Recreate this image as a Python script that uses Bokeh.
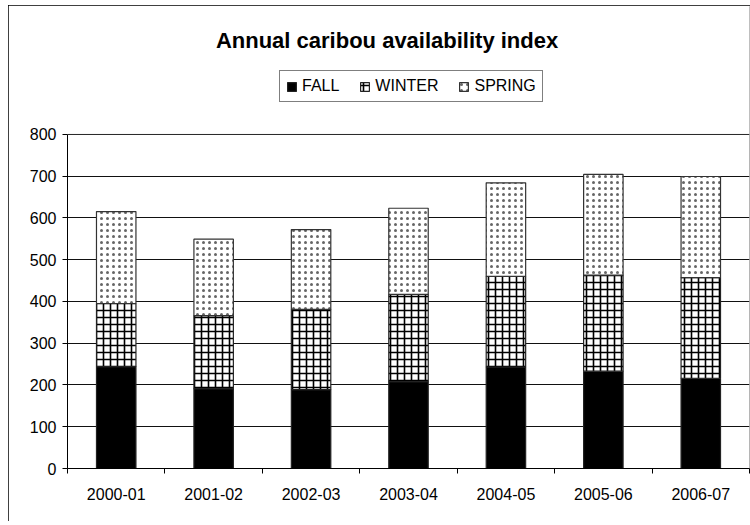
from bokeh.plotting import figure
from bokeh.models import (ColumnDataSource, FixedTicker, Legend, LegendItem, Label,
                          BoxAnnotation)
from bokeh.embed import file_html
from bokeh.resources import INLINE

seasons = ["2000-01", "2001-02", "2002-03", "2003-04", "2004-05", "2005-06", "2006-07"]
fall = [244, 191, 189, 208, 243, 233, 216]
winter = [151, 175, 192, 209, 217, 230, 241]
spring = [220, 183, 191, 206, 224, 241, 242]
y_ticks = [0, 100, 200, 300, 400, 500, 600, 700, 800]
y_max = 800

FONT = "Liberation Sans"

xpos = [i + 0.5 for i in range(len(seasons))]
src = ColumnDataSource(dict(x=xpos, FALL=fall, WINTER=winter, SPRING=spring))

# frame extends to the top so that title and legend sit inside it (not clipped)
p = figure(width=742, height=516, x_range=(0, len(seasons)), y_range=(0, 1106),
           output_backend="svg", toolbar_location=None,
           min_border_left=59, min_border_right=1, min_border_top=1, min_border_bottom=53)
p.margin = (5, 0, 0, 8)
p.styles = {"outline": "1px solid #000", "outline-offset": "-1px"}

rs = p.vbar_stack(["FALL", "WINTER", "SPRING"], x="x", width=0.405, source=src,
                  fill_color=["black", "white", "white"],
                  line_color=["#222222", "#222222", "#333333"], line_width=1.2,
                  hatch_pattern=[" ", "+", "."],
                  hatch_color=["black", "black", "#666666"],
                  hatch_scale=[6, 7, 6], hatch_weight=[1, 1.6, 1.5])

# plot-area border (grey, as in the reference)
p.add_layout(BoxAnnotation(left=0, right=len(seasons), bottom=0, top=y_max,
                           fill_color=None, line_color="#808080", line_width=1,
                           level="underlay"))

# axes
p.xaxis.ticker = FixedTicker(ticks=xpos, minor_ticks=list(range(len(seasons) + 1)))
p.xaxis.major_label_overrides = {x: s for x, s in zip(xpos, seasons)}
p.xaxis.major_tick_out = 0
p.xaxis.major_tick_in = 0
p.xaxis.minor_tick_out = 5
p.xaxis.minor_tick_in = 0
p.xaxis.minor_tick_line_color = "black"
p.xaxis.major_label_standoff = 14

p.yaxis.ticker = FixedTicker(ticks=y_ticks, minor_ticks=[])
p.yaxis.bounds = (0, y_max)
p.yaxis.major_tick_out = 5
p.yaxis.major_tick_in = 0
p.yaxis.major_label_standoff = 6

for ax in (p.xaxis, p.yaxis):
    ax.axis_line_color = "black"
    ax.axis_line_width = 1
    ax.major_tick_line_color = "black"
    ax.major_label_text_font = FONT
    ax.major_label_text_font_size = "16px"
    ax.major_label_text_color = "black"

p.xgrid.grid_line_color = None
p.ygrid.ticker = FixedTicker(ticks=y_ticks, minor_ticks=[])
p.ygrid.grid_line_color = "#111111"
p.ygrid.grid_line_width = 1
p.outline_line_color = None
p.background_fill_color = "white"
p.border_fill_color = "white"

# title
title = Label(x=3.28, y=1024, text="Annual caribou availability index",
              text_align="center", text_baseline="alphabetic",
              text_font=FONT, text_font_size="22px", text_font_style="bold",
              text_color="black")
p.add_layout(title)

legend = Legend(items=[LegendItem(label="FALL", renderers=[rs[0]]),
                       LegendItem(label="WINTER", renderers=[rs[1]]),
                       LegendItem(label="SPRING", renderers=[rs[2]])],
                orientation="horizontal", location=(212, 366),
                label_text_font=FONT, label_text_font_size="16px",
                label_text_color="black",
                glyph_width=11, glyph_height=11, label_standoff=5, spacing=20,
                padding=6, margin=0, border_line_color="black", border_line_width=1,
                label_height=17, background_fill_color="white", background_fill_alpha=1)
p.add_layout(legend, "center")

open("out.html", "w").write(file_html(p, INLINE))
